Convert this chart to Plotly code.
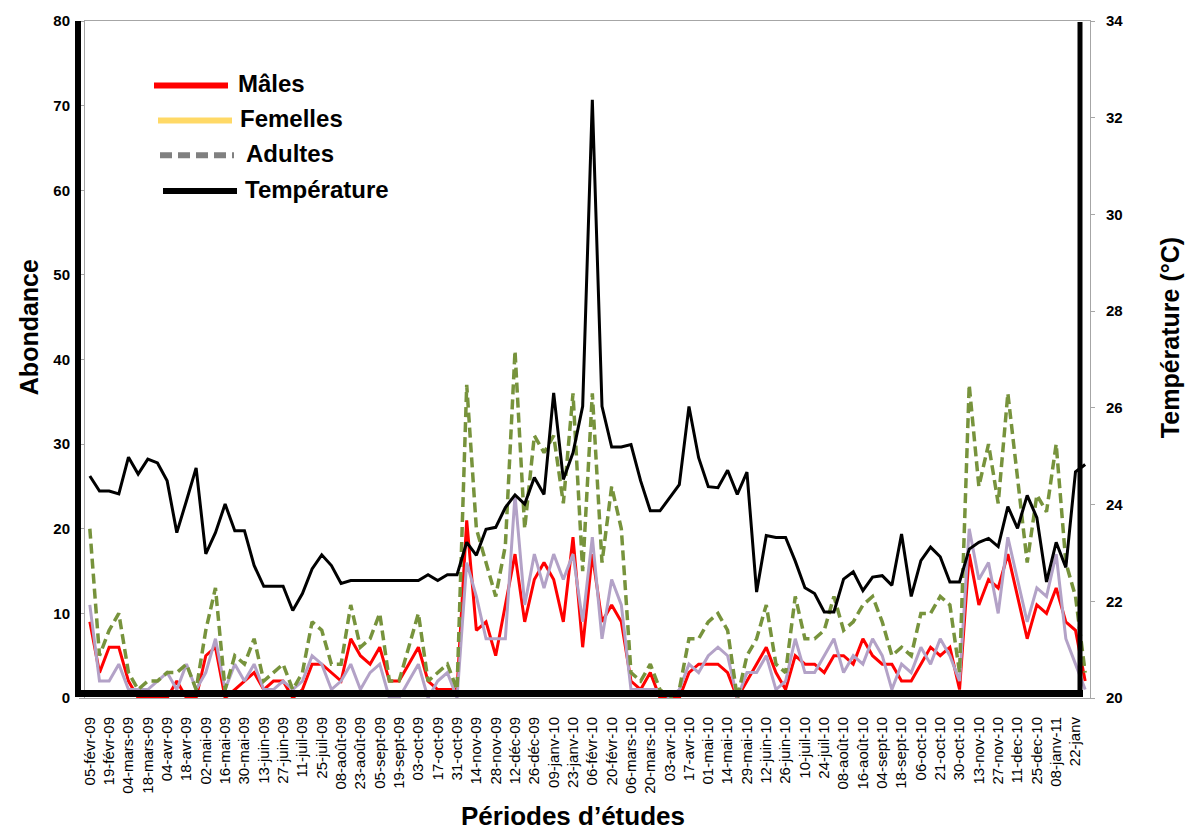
import plotly.graph_objects as go

# ---------------- data ----------------
tick_labels = ["05-févr-09", "19-févr-09", "04-mars-09", "18-mars-09", "04-avr-09", "18-avr-09",
               "02-mai-09", "16-mai-09", "30-mai-09", "13-juin-09", "27-juin-09", "11-juil-09",
               "25-juil-09", "08-août-09", "23-août-09", "05-sept-09", "19-sept-09", "03-oct-09",
               "17-oct-09", "31-oct-09", "14-nov-09", "28-nov-09", "12-déc-09", "26-déc-09",
               "09-janv-10", "23-janv-10", "06-févr-10", "20-févr-10", "06-mars-10", "20-mars-10",
               "03-avr-10", "17-avr-10", "01-mai-10", "14-mai-10", "29-mai-10", "12-juin-10",
               "26-juin-10", "10-juil-10", "24-juil-10", "08-août-10", "16-août-10", "04-sept-10",
               "18-sept-10", "06-oct-10", "21-oct-10", "30-oct-10", "13-nov-10", "27-nov-10",
               "11-dec-10", "25-dec-10", "08-janv-11", "22-janv"]

males = [9, 3, 6, 6, 2, 0, 0, 0, 0, 2,
         0, 0, 5, 6, 0, 1, 2, 3, 1, 2,
         2, 0, 1, 4, 4, 3, 2, 7, 5, 4,
         6, 2, 2, 4, 6, 2, 1, 1, 1, 21,
         8, 9, 5, 11, 17, 9, 14, 16, 14, 9,
         19, 6, 17, 9, 11, 9, 2, 1, 3, 0,
         0, 0, 3, 4, 4, 4, 3, 0, 2, 4,
         6, 3, 1, 5, 4, 4, 3, 5, 5, 4,
         7, 5, 4, 4, 2, 2, 4, 6, 5, 6,
         1, 17, 11, 14, 13, 17, 12, 7, 11, 10,
         13, 9, 8, 2]

femelles = [11, 2, 2, 4, 1, 1, 1, 2, 3, 1,
            4, 1, 3, 7, 1, 4, 2, 4, 1, 1,
            2, 1, 2, 5, 4, 1, 2, 4, 1, 3,
            4, 0, 0, 2, 4, 0, 2, 3, 0, 16,
            12, 7, 7, 7, 24, 11, 17, 13, 17, 14,
            17, 9, 19, 7, 14, 11, 1, 1, 1, 1,
            0, 1, 4, 3, 5, 6, 5, 0, 3, 3,
            5, 1, 2, 7, 3, 3, 5, 7, 3, 5,
            4, 7, 5, 1, 4, 3, 6, 4, 7, 5,
            2, 20, 14, 16, 10, 19, 14, 9, 13, 12,
            17, 7, 4, 1]

adultes = [20, 5, 8, 10, 3, 1, 2, 2, 3, 3,
           4, 1, 8, 13, 1, 5, 4, 7, 2, 3,
           4, 1, 3, 9, 8, 4, 4, 11, 6, 7,
           10, 2, 2, 6, 10, 2, 3, 4, 1, 37,
           20, 16, 12, 18, 41, 20, 31, 29, 31, 23,
           36, 15, 36, 16, 25, 20, 3, 2, 4, 1,
           0, 1, 7, 7, 9, 10, 8, 0, 5, 7,
           11, 4, 3, 12, 7, 7, 8, 12, 8, 9,
           11, 12, 9, 5, 6, 5, 10, 10, 12, 11,
           3, 37, 25, 30, 23, 36, 26, 16, 24, 22,
           30, 16, 12, 3]

temperature = [24.59, 24.28, 24.28, 24.22, 24.98, 24.63, 24.94, 24.86, 24.49, 23.42,
               24.08, 24.76, 22.98, 23.42, 24.01, 23.46, 23.46, 22.74, 22.31, 22.31,
               22.31, 21.81, 22.16, 22.67, 22.96, 22.74, 22.37, 22.43, 22.43, 22.43,
               22.43, 22.43, 22.43, 22.43, 22.43, 22.55, 22.43, 22.55, 22.55, 23.22,
               22.95, 23.49, 23.53, 23.94, 24.20, 24.01, 24.56, 24.21, 26.31, 24.52,
               25.07, 26.03, 32.37, 26.03, 25.19, 25.19, 25.24, 24.49, 23.87, 23.87,
               24.13, 24.41, 26.03, 24.97, 24.37, 24.35, 24.71, 24.21, 24.67, 22.19,
               23.36, 23.32, 23.32, 22.83, 22.28, 22.16, 21.78, 21.78, 22.46, 22.61,
               22.22, 22.50, 22.53, 22.33, 23.39, 22.10, 22.84, 23.12, 22.92, 22.40,
               22.40, 23.08, 23.22, 23.30, 23.13, 23.96, 23.51, 24.19, 23.73, 22.40,
               23.22, 22.70, 24.68, 24.83]

periods = list(range(len(males)))          # weekly sampling periods
tick_positions = periods[::2]               # one label every two periods

# ---------------- layout constants ----------------
W, H = 1189, 830
ML, MR, MT, MB = 85, 99, 17, 132
PW, PH = W - ML - MR, H - MT - MB
FONT = "Liberation Sans, Arial, sans-serif"


def px(xp):
    return (xp - ML) / PW


def py(yp):
    return (H - MB - yp) / PH


fig = go.Figure()
fig.add_trace(go.Scatter(x=periods, y=males, mode="lines", name="Mâles",
                         line=dict(color="#FF0000", width=3)))
fig.add_trace(go.Scatter(x=periods, y=femelles, mode="lines", name="Femelles",
                         line=dict(color="#B3A2C7", width=3)))
fig.add_trace(go.Scatter(x=periods, y=adultes, mode="lines", name="Adultes",
                         line=dict(color="#77933C", width=3.5, dash="10px,5px")))
fig.add_trace(go.Scatter(x=periods, y=temperature, mode="lines", name="Température",
                         yaxis="y2", line=dict(color="#000000", width=3)))

shapes = []
# heavy black frame lines
shapes.append(dict(type="line", xref="paper", yref="paper", x0=px(78), x1=px(78),
                   y0=py(697), y1=py(17), line=dict(color="black", width=6)))
shapes.append(dict(type="line", xref="paper", yref="paper", x0=px(75), x1=px(1083),
                   y0=py(693.4), y1=py(693.4), line=dict(color="black", width=7)))
shapes.append(dict(type="line", xref="paper", yref="paper", x0=px(1080), x1=px(1080),
                   y0=py(697), y1=py(18), line=dict(color="black", width=5)))

annotations = []
# legend drawn as in the reference
legend_items = [
    ("Mâles", "#FF0000", "solid", 154, 228, 82, 236),
    ("Femelles", "#FFD966", "solid", 158, 232, 117, 238),
    ("Adultes", "#808080", "12px,6px", 160, 234, 152, 244),
    ("Température", "#000000", "solid", 163, 237, 188, 243),
]
for name, col, dash, x0, x1, yy, xt in legend_items:
    shapes.append(dict(type="line", xref="paper", yref="paper", x0=px(x0), x1=px(x1),
                       y0=py(yy), y1=py(yy), line=dict(color=col, width=6, dash=dash)))
    annotations.append(dict(text=name, xref="paper", yref="paper", x=px(xt), y=py(yy - 2),
                            xanchor="left", yanchor="middle", showarrow=False,
                            font=dict(family=FONT, size=24, color="black", weight="bold")))

# axis titles
annotations.append(dict(text="Abondance", xref="paper", yref="paper", x=px(29), y=py(325),
                        textangle=-90, showarrow=False, xanchor="center", yanchor="middle",
                        font=dict(family=FONT, size=25, color="black", weight="bold")))
annotations.append(dict(text="Température (°C)", xref="paper", yref="paper", x=px(1170), y=py(336),
                        textangle=-90, showarrow=False, xanchor="center", yanchor="middle",
                        font=dict(family=FONT, size=25, color="black", weight="bold")))
annotations.append(dict(text="Périodes d’études", xref="paper", yref="paper", x=px(573), y=py(817),
                        showarrow=False, xanchor="center", yanchor="middle",
                        font=dict(family=FONT, size=26, color="black", weight="bold")))

fig.update_layout(
    width=W, height=H,
    margin=dict(l=ML, r=MR, t=MT, b=MB),
    paper_bgcolor="white", plot_bgcolor="white",
    showlegend=False,
    font=dict(family=FONT, color="black"),
    xaxis=dict(range=[-0.5, len(periods) - 0.5], tickmode="array",
               tickvals=tick_positions, ticktext=tick_labels, tickangle=-90,
               tickfont=dict(family=FONT, size=15, color="black"),
               showgrid=False, zeroline=False, showline=True, linecolor="#A6A6A6",
               linewidth=1, mirror=True, ticks="", ticklabelstandoff=12),
    yaxis=dict(range=[0, 80], dtick=10, showgrid=False, zeroline=False,
               showline=True, linecolor="#A6A6A6", linewidth=1, mirror=True,
               ticks="outside", ticklen=5, tickcolor="#A6A6A6", ticklabelstandoff=6,
               tickfont=dict(family=FONT, size=15, color="black", weight="bold")),
    yaxis2=dict(range=[20, 34], dtick=2, overlaying="y", side="right",
                showgrid=False, zeroline=False, showline=True, linecolor="#A6A6A6",
                linewidth=1, ticks="outside", ticklen=4, tickcolor="#A6A6A6",
                ticklabelstandoff=8,
                tickfont=dict(family=FONT, size=15, color="black", weight="bold")),
    shapes=shapes,
    annotations=annotations,
)

fig.write_html("out.html", config={"displayModeBar": False, "responsive": False})
